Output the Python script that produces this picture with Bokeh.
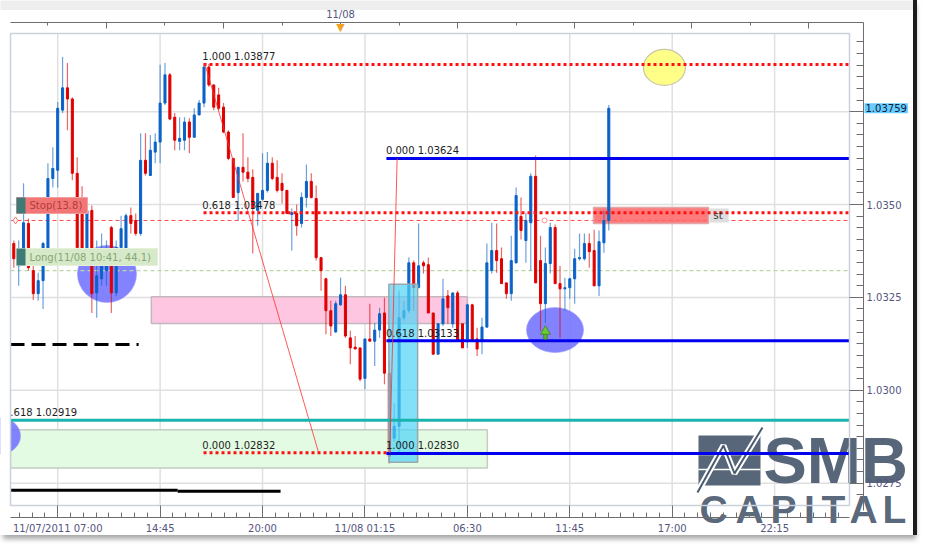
import numpy as np
from bokeh.plotting import figure
from bokeh.models import (ColumnDataSource, Range1d, LinearAxis, FixedTicker, Label)
from bokeh.core.properties import value
from bokeh.embed import file_html
from bokeh.resources import INLINE

# ---------------- data (15-minute candles) ----------------
candle_open = [
    1.03395, 1.03335, 1.03381, 1.03449, 1.03322, 1.03260, 1.03295, 1.03381, 1.03570, 1.03592,
    1.03754, 1.03814, 1.03784, 1.03584, 1.03484, 1.03381, 1.03484, 1.03262, 1.03300, 1.03322,
    1.03438, 1.03262, 1.03384, 1.03381, 1.03470, 1.03457, 1.03422, 1.03619, 1.03578, 1.03641,
    1.03668, 1.03773, 1.03849, 1.03735, 1.03670, 1.03673, 1.03722, 1.03681, 1.03741, 1.03773,
    1.03870, 1.03822, 1.03795, 1.03762, 1.03695, 1.03624, 1.03532, 1.03600, 1.03587, 1.03573,
    1.03484, 1.03514, 1.03538, 1.03611, 1.03573, 1.03557, 1.03538, 1.03473, 1.03476, 1.03449,
    1.03519, 1.03562, 1.03516, 1.03357, 1.03300, 1.03214, 1.03157, 1.03230, 1.03257, 1.03141,
    1.03116, 1.03114, 1.03032, 1.03138, 1.03132, 1.03162, 1.03208, 1.03046, 1.02871, 1.02903,
    1.03195, 1.03214, 1.03343, 1.03276, 1.03343, 1.03338, 1.03208, 1.03097, 1.03179, 1.03254,
    1.03179, 1.03262, 1.03179, 1.03138, 1.03230, 1.03138, 1.03132, 1.03170, 1.03322, 1.03376,
    1.03354, 1.03289, 1.03260, 1.03343, 1.03468, 1.03403, 1.03451, 1.03576, 1.03349, 1.03233,
    1.03341, 1.03438, 1.03287, 1.03273, 1.03276, 1.03300, 1.03354, 1.03354, 1.03395, 1.03376,
    1.03281, 1.03397, 1.03457]
candle_high = [
    1.03403, 1.03403, 1.03557, 1.03462, 1.03341, 1.03316, 1.03400, 1.03611, 1.03654, 1.03776,
    1.03897, 1.03881, 1.03789, 1.03627, 1.03549, 1.03497, 1.03497, 1.03403, 1.03422, 1.03403,
    1.03443, 1.03403, 1.03470, 1.03476, 1.03492, 1.03476, 1.03692, 1.03692, 1.03687, 1.03692,
    1.03876, 1.03881, 1.03854, 1.03746, 1.03735, 1.03735, 1.03732, 1.03759, 1.03781, 1.03876,
    1.03878, 1.03822, 1.03814, 1.03773, 1.03700, 1.03624, 1.03600, 1.03692, 1.03627, 1.03595,
    1.03530, 1.03638, 1.03641, 1.03627, 1.03619, 1.03584, 1.03538, 1.03489, 1.03500, 1.03532,
    1.03608, 1.03584, 1.03551, 1.03357, 1.03303, 1.03241, 1.03241, 1.03303, 1.03281, 1.03160,
    1.03146, 1.03114, 1.03138, 1.03233, 1.03181, 1.03222, 1.03249, 1.03078, 1.02965, 1.03268,
    1.03241, 1.03357, 1.03349, 1.03449, 1.03349, 1.03357, 1.03208, 1.03179, 1.03300, 1.03270,
    1.03262, 1.03268, 1.03179, 1.03233, 1.03233, 1.03168, 1.03195, 1.03395, 1.03451, 1.03449,
    1.03384, 1.03289, 1.03416, 1.03546, 1.03519, 1.03478, 1.03584, 1.03632, 1.03416, 1.03384,
    1.03451, 1.03446, 1.03335, 1.03303, 1.03303, 1.03381, 1.03422, 1.03422, 1.03422, 1.03432,
    1.03430, 1.03484, 1.03768]
candle_low = [
    1.03330, 1.03281, 1.03341, 1.03322, 1.03243, 1.03241, 1.03219, 1.03376, 1.03546, 1.03546,
    1.03746, 1.03700, 1.03565, 1.03376, 1.03343, 1.03368, 1.03208, 1.03195, 1.03281, 1.03281,
    1.03208, 1.03254, 1.03349, 1.03376, 1.03422, 1.03416, 1.03416, 1.03578, 1.03578, 1.03611,
    1.03611, 1.03768, 1.03727, 1.03646, 1.03646, 1.03646, 1.03638, 1.03681, 1.03741, 1.03762,
    1.03817, 1.03754, 1.03754, 1.03692, 1.03619, 1.03519, 1.03457, 1.03562, 1.03560, 1.03368,
    1.03443, 1.03511, 1.03532, 1.03565, 1.03532, 1.03503, 1.03476, 1.03376, 1.03416, 1.03438,
    1.03492, 1.03516, 1.03349, 1.03268, 1.03151, 1.03146, 1.03154, 1.03227, 1.03141, 1.03070,
    1.03111, 1.03024, 1.03003, 1.03132, 1.03065, 1.03141, 1.03016, 1.02803, 1.02862, 1.02830,
    1.03187, 1.03208, 1.03214, 1.03276, 1.03314, 1.03208, 1.03097, 1.03097, 1.03173, 1.03179,
    1.03168, 1.03132, 1.03114, 1.03114, 1.03132, 1.03092, 1.03097, 1.03168, 1.03314, 1.03316,
    1.03287, 1.03246, 1.03241, 1.03341, 1.03406, 1.03343, 1.03322, 1.03289, 1.03160, 1.03181,
    1.03314, 1.03287, 1.03141, 1.03214, 1.03246, 1.03233, 1.03349, 1.03349, 1.03330, 1.03281,
    1.03254, 1.03370, 1.03430]
candle_close = [
    1.03354, 1.03376, 1.03451, 1.03330, 1.03260, 1.03295, 1.03395, 1.03570, 1.03597, 1.03759,
    1.03814, 1.03784, 1.03584, 1.03384, 1.03362, 1.03484, 1.03260, 1.03308, 1.03376, 1.03362,
    1.03262, 1.03384, 1.03435, 1.03470, 1.03449, 1.03422, 1.03619, 1.03584, 1.03646, 1.03668,
    1.03773, 1.03849, 1.03730, 1.03673, 1.03678, 1.03722, 1.03681, 1.03741, 1.03773, 1.03870,
    1.03822, 1.03762, 1.03759, 1.03695, 1.03624, 1.03519, 1.03600, 1.03587, 1.03570, 1.03492,
    1.03530, 1.03538, 1.03611, 1.03570, 1.03538, 1.03538, 1.03476, 1.03478, 1.03443, 1.03519,
    1.03562, 1.03519, 1.03357, 1.03322, 1.03214, 1.03173, 1.03233, 1.03257, 1.03146, 1.03114,
    1.03111, 1.03030, 1.03138, 1.03132, 1.03162, 1.03206, 1.03046, 1.02822, 1.02903, 1.03195,
    1.03214, 1.03343, 1.03276, 1.03335, 1.03335, 1.03208, 1.03097, 1.03179, 1.03246, 1.03222,
    1.03262, 1.03132, 1.03114, 1.03230, 1.03132, 1.03111, 1.03170, 1.03343, 1.03376, 1.03349,
    1.03287, 1.03260, 1.03349, 1.03524, 1.03430, 1.03457, 1.03576, 1.03289, 1.03233, 1.03341,
    1.03438, 1.03287, 1.03273, 1.03276, 1.03300, 1.03354, 1.03357, 1.03395, 1.03373, 1.03281,
    1.03400, 1.03457, 1.03759]

bottom_tick_idx = [9, 30, 51, 72, 93, 114, 135, 156]
bottom_tick_labels = ["11/07/2011 07:00", "14:45", "20:00", "11/08 01:15",
                      "06:30", "11:45", "17:00", "22:15"]
top_tick_idx = [19, 43, 67, 91, 115, 139, 163]
top_minor_idx = [7, 31, 55, 79, 103, 127, 151]
day_idx = 67
day_label = "11/08"
price_ticks = [1.0275, 1.0300, 1.0325, 1.0350, 1.0375]

fib_red_levels = [1.03877, 1.03478, 1.02832]
fib_red_names = ["1.000", "0.618", "0.000"]
fib_red_start = 38.9
fib_red_end_low = 76.6
fib_red_link = [(39.2, 1.03877), (62.5, 1.02832)]
fib_blue_levels = [1.03624, 1.03133, 1.02830]
fib_blue_names = ["0.000", "0.618", "1.000"]
fib_blue_start = 76.4
fib_blue_link = [(77.1, 1.02830), (78.6, 1.03624)]
teal_level = 1.02919
teal_name = "0.618"
stop_level = 1.03457
long_level = 1.03322
black_dash = (25.6, 1.03123)
black_solid = [(33.6, 1.02731), (54.7, 1.02728)]
zone_pink = (28.2, 93.0, 1.03180, 1.03252)
zone_cyan = (76.9, 82.8, 1.02806, 1.03285)
zone_green = (97.1, 1.02791, 1.02894)
ell_x = [19.11, 110.97, -2.73]
ell_y = [1.03313, 1.03162, 1.02877]
ell_w = [12.1, 11.69, 8.2]
ell_h = [0.001534, 0.001211, 0.000969]
target_x, target_y, target_w, target_h = 133.4, 1.03869, 8.61, 0.000969
entry_idx = 109.0
entry_low, entry_high = 1.03137, 1.03169

FONT = "DejaVu Sans"
BLUE = "#0b62c8"
RED = "#e00000"
SLATE = "#4a5a6f"

W, H = 913, 535


# pixel helpers for screen-anchored decorations
def kx(px):
    return (px - 13.3) / 4.877


def py2p(py):
    return 1.0350 + (204.0 - py) / 37150.0


# inner chart panel
X_L, X_R = kx(10), kx(849)
Y_B, Y_T = py2p(505), py2p(33)

p = figure(width=W, height=H, output_backend="svg", toolbar_location=None,
           x_range=Range1d(kx(0), kx(W)), y_range=Range1d(py2p(H), py2p(0)),
           x_axis_location=None, y_axis_location=None, min_border=0,
           background_fill_color="white", border_fill_color="white",
           outline_line_color=None)
p.styles = {"box-shadow": "4px 0px 0px 0px #1c1c1c, 3px 4px 5px 0px rgba(0,0,0,0.35)"}
p.xgrid.visible = False
p.ygrid.visible = False

AX = "#6e6e6e"
LBL = "#55557f"
common = dict(axis_line_color=AX, major_tick_line_color=AX, minor_tick_line_color=AX,
              major_tick_out=0, minor_tick_out=0,
              major_label_text_color=LBL, major_label_text_font=FONT,
              major_label_text_font_size="10px")

step = (bottom_tick_idx[1] - bottom_tick_idx[0]) / 8
bottom_minor = [t for t in np.arange(bottom_tick_idx[0] - 8 * step, X_R, step) if t > X_L]
bax = LinearAxis(ticker=FixedTicker(ticks=bottom_tick_idx, minor_ticks=bottom_minor),
                 major_label_overrides=dict(zip(bottom_tick_idx, bottom_tick_labels)),
                 fixed_location=py2p(517), bounds=(X_L, X_R),
                 major_tick_in=12, minor_tick_in=5, major_label_standoff=5,
                 major_label_text_align="center", **common)
p.add_layout(bax, "below")

# price axis: ticks from the axis, labels as text annotations next to it
pstep = (price_ticks[1] - price_ticks[0]) / 8
price_minor = [t for t in np.arange(price_ticks[0] - 2 * pstep, Y_T, pstep) if t > Y_B]
rax = LinearAxis(ticker=FixedTicker(ticks=price_ticks, minor_ticks=price_minor),
                 major_label_overrides={t: "" for t in price_ticks},
                 fixed_location=kx(863), bounds=(py2p(510), py2p(22)),
                 major_tick_in=14, minor_tick_in=7, major_label_standoff=3, **common)
p.add_layout(rax, "right")

tax = LinearAxis(ticker=FixedTicker(ticks=top_tick_idx, minor_ticks=top_minor_idx),
                 major_label_overrides={t: (day_label if t == day_idx else "") for t in top_tick_idx},
                 fixed_location=py2p(22), bounds=(X_L, kx(863)),
                 major_tick_in=6, minor_tick_in=3, major_label_standoff=3,
                 major_label_text_align="center", **common)
p.add_layout(tax, "above")

# light strip above the chart panel
p.quad(left=[kx(-2)], right=[kx(W + 2)], top=[py2p(-2)], bottom=[py2p(9.5)],
       fill_color="#eeeeee", line_color=None, level="underlay")

# grid lines inside the panel
p.segment(x0=bottom_tick_idx, x1=bottom_tick_idx, y0=[Y_B] * len(bottom_tick_idx),
          y1=[Y_T] * len(bottom_tick_idx), line_color="#e0e0e0", line_width=1.5, level="underlay")
p.segment(x0=[X_L] * len(price_ticks), x1=[X_R] * len(price_ticks), y0=price_ticks,
          y1=price_ticks, line_color="#e0e0e0", line_width=1.5, level="underlay")

# ---------------- logo (watermark, under the chart) ----------------
p.quad(left=[kx(698)], right=[kx(760)], top=[py2p(435)], bottom=[py2p(485)],
       fill_color=SLATE, fill_alpha=0.93, line_color=None, level="underlay")
p.segment(x0=[kx(698)] * 2, x1=[kx(760)] * 2, y0=[py2p(454), py2p(469)], y1=[py2p(454), py2p(469)],
          line_color="white", line_width=1.5, level="underlay")
zz_x = [kx(697), kx(723), kx(734), kx(762)]
zz_y = [py2p(492), py2p(445), py2p(473), py2p(427)]
p.line(zz_x, zz_y, line_color="white", line_width=6, level="underlay")
p.line(zz_x, zz_y, line_color=SLATE, line_width=2, level="underlay")
p.add_layout(Label(x=kx(763), y=py2p(460), text="SMB", text_font="Liberation Sans",
                   text_font_style="bold", text_font_size="65px", text_color=SLATE,
                   text_alpha=0.93, text_baseline="middle", text_align="left",
                   level="underlay"))
for ch, cx in zip("CAPITAL", [713, 749, 783, 809, 833, 863, 894]):
    p.add_layout(Label(x=kx(cx), y=py2p(509), text=ch, text_font="Liberation Sans",
                       text_font_style="bold", text_font_size="39px", text_color=SLATE,
                       text_alpha=0.93, text_baseline="middle", text_align="center",
                       level="underlay"))

# ---------------- zones & ellipses ----------------
p.quad(left=[X_L], right=[zone_green[0]], bottom=[zone_green[1]], top=[zone_green[2]],
       fill_color="#e2fbe2", line_color="#c4ccc4", line_width=1.5)
p.quad(left=[zone_pink[0]], right=[zone_pink[1]], bottom=[zone_pink[2]], top=[zone_pink[3]],
       fill_color="#ffc6e1", line_color="#c4b8be", line_width=1.5)
p.ellipse(x=ell_x, y=ell_y, width=ell_w, height=ell_h, fill_color="#7272ff",
          fill_alpha=0.88, line_color="#9a9aff", line_alpha=0.6)
p.ellipse(x=[target_x], y=[target_y], width=[target_w], height=[target_h],
          fill_color="#ffff88", line_color="#c8c8a8", line_width=1.2)

# thin trade lines
p.line([X_L, X_R], [stop_level, stop_level], line_color="#ff4a4a", line_width=1, line_dash="4 3")
p.line([X_L, X_R], [long_level, long_level], line_color="#bcd6a8", line_width=1.2, line_dash="4 3")
p.scatter([kx(15)], [stop_level], marker="diamond", size=7, fill_color="white", line_color="#ff7070")
p.scatter([kx(544)], [stop_level], marker="circle", size=5, fill_color="white", line_color="#ff9090")

# red "st" box
p.quad(left=[kx(593)], right=[kx(708)], top=[py2p(207)], bottom=[py2p(223)],
       fill_color="#ff6464", fill_alpha=0.85, line_color="#e0a8a8", line_width=1.5)
p.quad(left=[kx(709)], right=[kx(728)], top=[py2p(208)], bottom=[py2p(222)],
       fill_color="#dedede", line_color=None)

# black lines
p.line([X_L, black_dash[0]], [black_dash[1]] * 2, line_color="black", line_width=3,
       line_dash="14 7")
p.line([X_L, black_solid[0][0]], [black_solid[0][1]] * 2, line_color="black", line_width=3)
p.line([black_solid[0][0], black_solid[1][0]], [black_solid[1][1]] * 2, line_color="black", line_width=3)

# ---------------- candles ----------------
n = min(len(candle_open), len(candle_high), len(candle_low), len(candle_close))
o = np.array(candle_open[:n]); h = np.array(candle_high[:n])
l = np.array(candle_low[:n]); c = np.array(candle_close[:n])
cols = np.where(c >= o, BLUE, RED)
src = ColumnDataSource(dict(x=np.arange(n), high=h, low=l, top=np.maximum(o, c),
                            bot=np.minimum(o, c), col=cols))
p.segment(x0="x", y0="low", x1="x", y1="high", line_color="col", line_alpha=0.6,
          line_width=1.2, source=src)
p.vbar(x="x", width=0.42, top="top", bottom="bot", fill_color="col", line_color="col",
       line_width=1, source=src)

# cyan zone over candles
p.quad(left=[zone_cyan[0]], right=[zone_cyan[1]], bottom=[zone_cyan[2]], top=[zone_cyan[3]],
       fill_color="#4fd3f7", fill_alpha=0.7, line_color="#9aa8b0", line_width=1.5)

# ---------------- fibonacci drawings ----------------
for lev, end in zip(fib_red_levels, [X_R, X_R, fib_red_end_low]):
    p.line([fib_red_start, end], [lev, lev], line_color="#ff1010", line_width=3, line_dash="3 3")
p.line([pt[0] for pt in fib_red_link], [pt[1] for pt in fib_red_link],
       line_color="#ff3030", line_alpha=0.8, line_width=1)
p.line([X_L, X_R], [teal_level, teal_level], line_color="#19b4ae", line_width=3)
for lev in fib_blue_levels:
    p.line([fib_blue_start, X_R], [lev, lev], line_color="#0000ee", line_width=3)
p.line([pt[0] for pt in fib_blue_link], [pt[1] for pt in fib_blue_link],
       line_color="#ff3030", line_alpha=0.8, line_width=1)

# entry arrow
p.vbar(x=[entry_idx], width=0.7, bottom=[entry_low], top=[entry_low + 0.6 * (entry_high - entry_low)],
       fill_color="#5cb82a", line_color="#2e6e10", line_width=0.6)
p.scatter([entry_idx], [entry_high - 0.33 * (entry_high - entry_low)], marker="triangle", size=10,
          fill_color="#6cc832", line_color="#2e6e10", line_width=0.6)

# fib texts
txt_x = [fib_red_start - 0.25] * 3 + [fib_blue_start - 0.1] * 3 + [kx(3.5)]
txt_y = fib_red_levels + fib_blue_levels + [teal_level]
txt = ([f"{nm} {lv:.5f}" for nm, lv in zip(fib_red_names, fib_red_levels)] +
       [f"{nm} {lv:.5f}" for nm, lv in zip(fib_blue_names, fib_blue_levels)] +
       [f"{teal_name} {teal_level:.5f}"])
p.text(x=txt_x, y=txt_y, text=txt, text_font=value(FONT), text_font_size="10px",
       text_color="#1e1e1e", text_baseline="bottom", y_offset=-2)

# trade labels (Stop / Long / st)
p.quad(left=[kx(16), kx(16)], right=[kx(87), kx(157)], top=[py2p(197), py2p(248)],
       bottom=[py2p(213), py2p(265)], fill_color=["#f27676", "#d6e9c8"],
       line_color=["#f4a0a0", "#e4f0da"], line_width=1)
p.quad(left=[kx(16), kx(16)], right=[kx(25), kx(25)], top=[py2p(197), py2p(248)],
       bottom=[py2p(213), py2p(265)], fill_color="#3e7b77", line_color=None)
p.text(x=[kx(29), kx(29), kx(713)], y=[py2p(205), py2p(256.5), py2p(215)],
       text=["Stop(13.8)", "Long(11/08 10:41, 44.1)", "st"],
       text_color=["#b23c3c", "#86a676", "#333333"], text_font=value(FONT),
       text_font_size="10px", text_baseline="middle")

# mask left of the panel (panel clipping) and panel outline
p.quad(left=[kx(-2)], right=[X_L], bottom=[py2p(H + 2)], top=[py2p(9.5)],
       fill_color="white", line_color=None)
p.quad(left=[X_L], right=[X_R], bottom=[Y_B], top=[Y_T], fill_color=None,
       line_color="#c9d2dc", line_width=1.5)

# ---------------- price labels, last price tag & day marker ----------------
for t in price_ticks[:-1]:
    p.add_layout(Label(x=kx(866), y=t, text=f"{t:.4f}", text_font=FONT,
                       text_font_size="10px", text_color=LBL, text_baseline="middle",
                       text_align="left"))
last = candle_close[n - 1]
p.add_layout(Label(x=kx(864), y=last, text=f"{last:.5f}", text_font=FONT,
                   text_font_size="10px", text_color="#10203a", text_baseline="middle",
                   text_align="left", background_fill_color="#66ccff", padding=1))
p.add_layout(Label(x=day_idx, y=py2p(26.5), text="\u25bc", text_font=FONT,
                   text_font_size="11px", text_color="#f2a024", text_baseline="middle",
                   text_align="center"))

open("out.html", "w").write(file_html(p, INLINE))
